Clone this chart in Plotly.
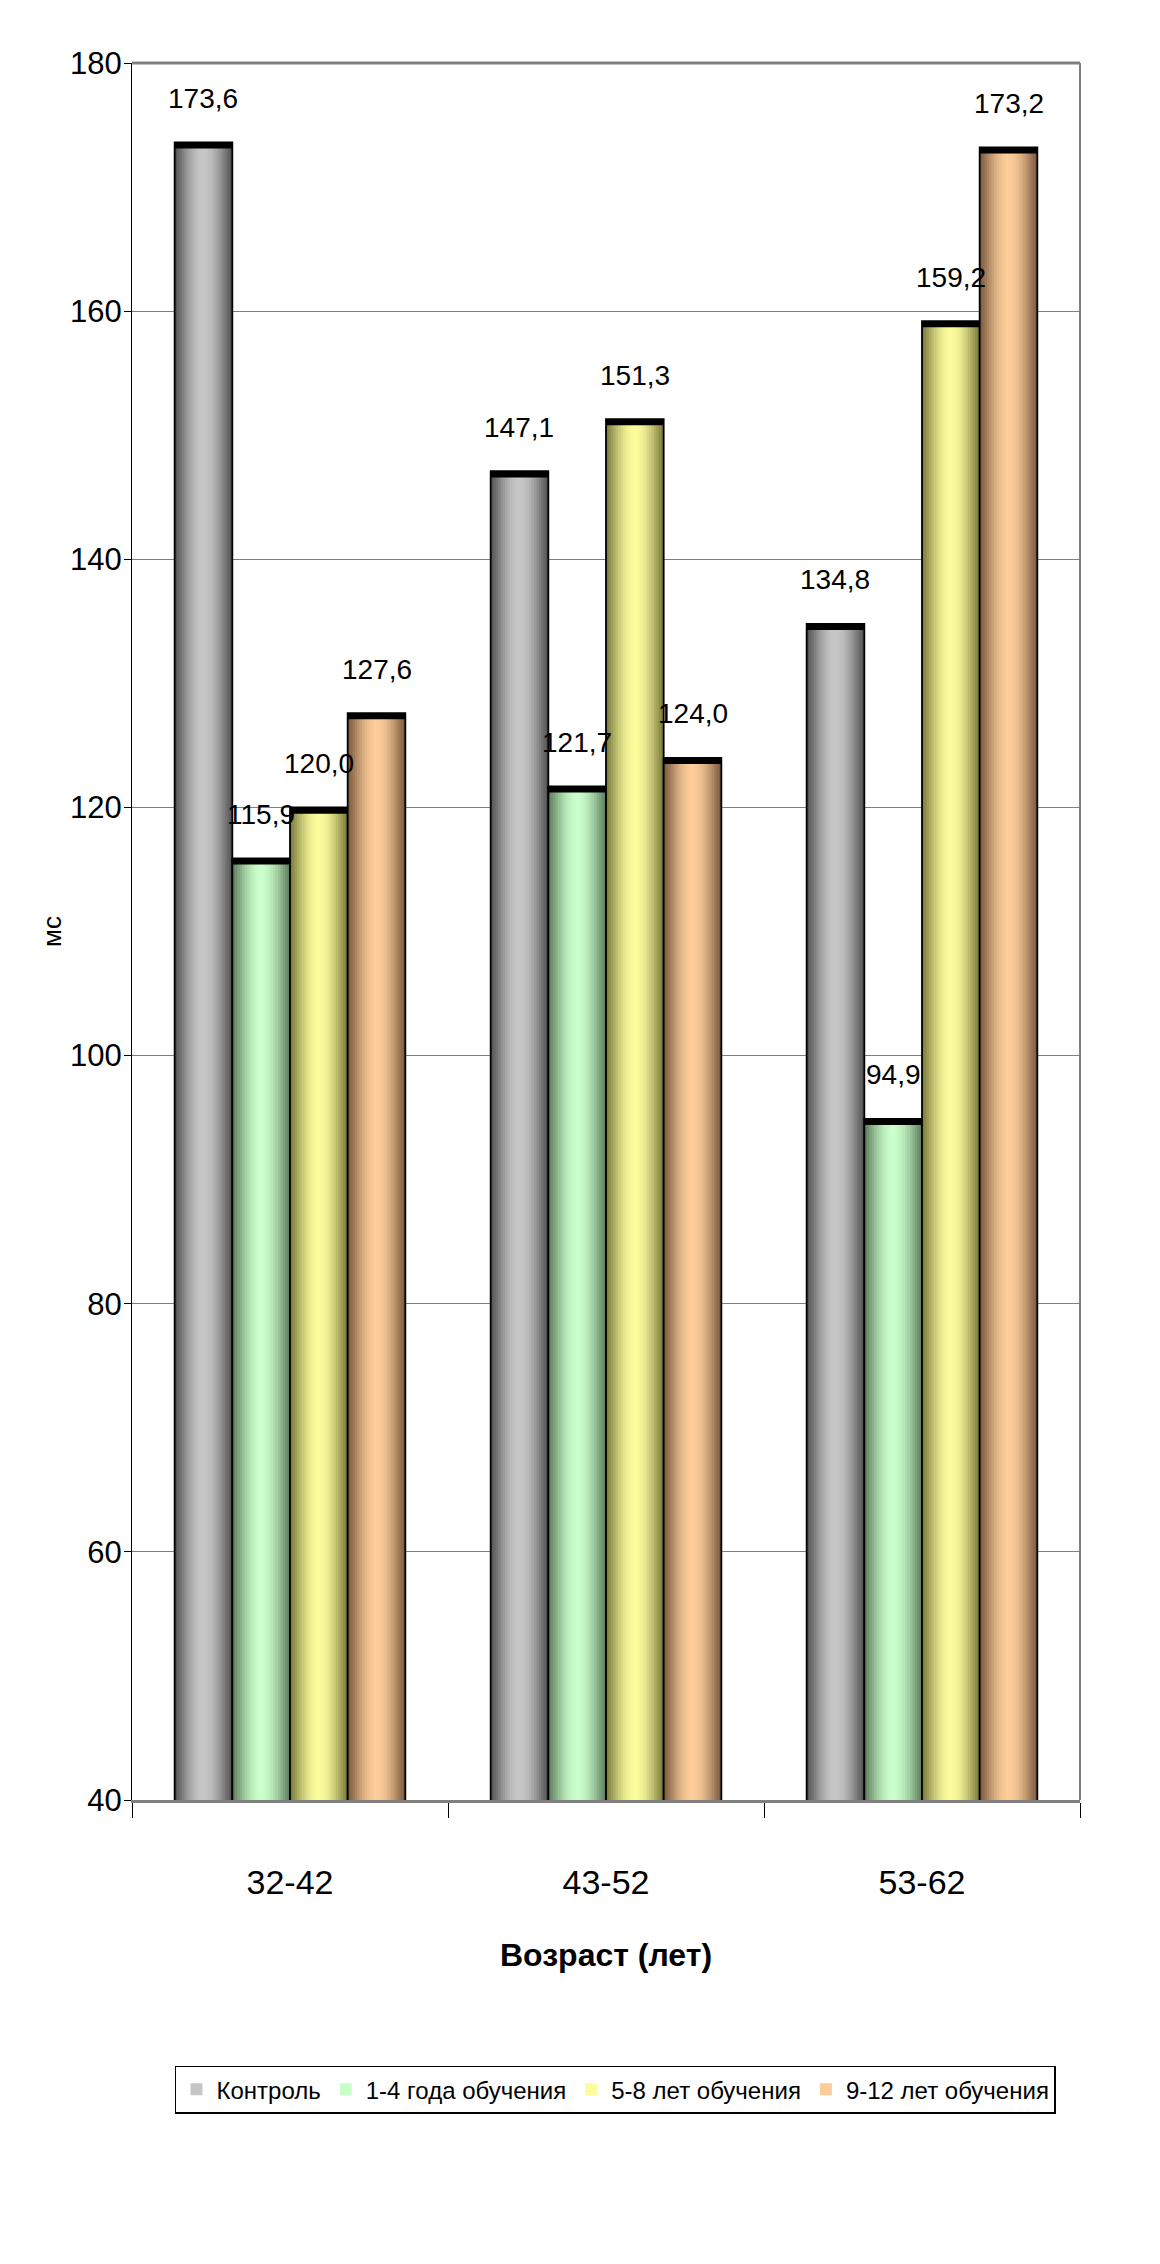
import plotly.graph_objects as go
import math

categories = ["32-42", "43-52", "53-62"]
series_names = ["Контроль", "1-4 года обучения", "5-8 лет обучения", "9-12 лет обучения"]
control = [173.6, 147.1, 134.8]
years_1_4 = [115.9, 121.7, 94.9]
years_5_8 = [120.0, 151.3, 159.2]
years_9_12 = [127.6, 124.0, 173.2]
series_values = [control, years_1_4, years_5_8, years_9_12]
y_ticks = [40, 60, 80, 100, 120, 140, 160, 180]
x_title = "Возраст (лет)"
y_title = "мс"

edge_colors = [(80, 80, 80), (92, 124, 92), (120, 120, 60), (120, 88, 60)]
center_colors = [(198, 198, 198), (202, 254, 202), (252, 252, 156), (252, 204, 154)]

W, H = 1160, 2264
ML, MR, MT, MB = 124, 88, 55, 472
plot_w = W - ML - MR
px_per_cat = plot_w / 3.0

group_w = 0.73
bar_w = group_w / 4
n_strips = 24
FONT = "Liberation Sans, Arial, sans-serif"

fig = go.Figure()

def lerp(a, b, f):
    return tuple(int(round(a[k] + (b[k] - a[k]) * f)) for k in range(3))

for i, (name, vals) in enumerate(zip(series_names, series_values)):
    base_off = -group_w / 2 + i * bar_w
    sw = bar_w / n_strips
    for s in range(n_strips):
        t = (s + 0.5) / n_strips
        f = math.sin(math.pi * t) ** 1.1
        c = lerp(edge_colors[i], center_colors[i], max(0.0, f))
        fig.add_trace(go.Bar(
            x=categories, y=vals, offset=base_off + s * sw,
            width=sw * (1.6 if s < n_strips - 1 else 1.0),
            marker=dict(color="rgb(%d,%d,%d)" % c, line=dict(width=0)),
            showlegend=(s == n_strips // 2 - 1), name=name, legendgroup=name,
            hoverinfo="skip",
        ))
    fig.add_trace(go.Bar(
        x=categories, y=vals, offset=base_off, width=bar_w,
        marker=dict(color="rgba(0,0,0,0)", line=dict(color="black", width=1.8)),
        showlegend=False, legendgroup=name, name=name,
    ))

# thick top edges of bars
for i, vals in enumerate(series_values):
    fig.add_trace(go.Bar(
        x=categories, y=[0.5] * len(vals), base=[v - 0.5 for v in vals],
        offset=-group_w / 2 + i * bar_w, width=bar_w,
        marker=dict(color="black", line=dict(width=0)), showlegend=False, hoverinfo="skip",
    ))

annotations = []
for i, vals in enumerate(series_values):
    for j, v in enumerate(vals):
        annotations.append(dict(
            x=j, xref="x", y=v, yref="y",
            xshift=(-group_w / 2 + (i + 0.5) * bar_w) * px_per_cat,
            yshift=44, text=("%.1f" % v).replace(".", ","), showarrow=False,
            font=dict(family=FONT, size=28, color="black"), yanchor="middle",
        ))

fig.update_layout(
    width=W, height=H,
    margin=dict(l=ML, r=MR, t=MT, b=MB),
    paper_bgcolor="white", plot_bgcolor="white",
    barmode="overlay",
    font=dict(family=FONT, size=30, color="black"),
    annotations=annotations,
    legend=dict(
        orientation="h", x=0.51, xanchor="center", y=-0.153, yanchor="top",
        font=dict(family=FONT, size=24, color="black"),
        bordercolor="black", borderwidth=1.5, bgcolor="white",
        itemwidth=30, traceorder="normal",
    ),
)
fig.update_xaxes(
    type="category", tickson="boundaries", ticks="outside", ticklen=15, tickcolor="black",
    tickwidth=1, showline=True, linecolor="#808080", linewidth=3,
    range=[-0.5, 2.5], tickfont=dict(size=34), ticklabelstandoff=50,
    title=dict(text="<b>" + x_title + "</b>", font=dict(size=32), standoff=44),
    showgrid=False,
)
fig.update_yaxes(
    range=[40, 180], tickvals=y_ticks, ticktext=[str(v) for v in y_ticks],
    ticks="outside", ticklen=7, tickcolor="black", showline=True, linecolor="black",
    linewidth=1, showgrid=True, gridcolor="#808080", gridwidth=1,
    tickfont=dict(size=31), ticklabelstandoff=-4,
    title=dict(text=y_title, font=dict(size=26), standoff=0),
    zeroline=False,
)
fig.add_shape(type="line", xref="paper", yref="paper", x0=0, x1=1, y0=1, y1=1,
              line=dict(color="#808080", width=3))
fig.add_shape(type="line", xref="paper", yref="paper", x0=1, x1=1, y0=0, y1=1,
              line=dict(color="#808080", width=2))

fig.write_html("out.html")
